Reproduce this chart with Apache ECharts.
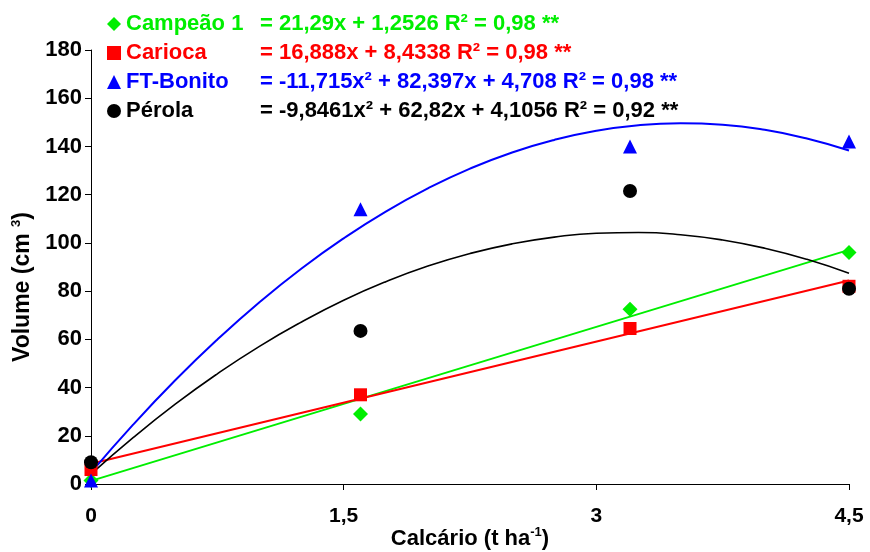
<!DOCTYPE html>
<html>
<head>
<meta charset="utf-8">
<script src="https://cdn.jsdelivr.net/npm/echarts@6/dist/echarts.min.js"></script>
<style>html,body{margin:0;padding:0;background:#fff}#c{width:870px;height:552px}</style>
</head>
<body>
<div id="c"></div>
<script>
// ---- data ----
const seriesNames = ['Campeão 1', 'Carioca', 'FT-Bonito', 'Pérola'];
const equations = [
  '= 21,29x + 1,2526 R² = 0,98 **',
  '= 16,888x + 8,4338 R² = 0,98 **',
  '= -11,715x² + 82,397x + 4,708 R² = 0,98 **',
  '= -9,8461x² + 62,82x + 4,1056 R² = 0,92 **'
];
const doses = [0, 1.6, 3.2, 4.5];
const campeao = [1.5, 29, 72.5, 96];
const carioca = [6, 37, 64.5, 82];
const ftBonito = [1.5, 114, 140, 142];
const perola = [9, 63.5, 121.5, 81];

const lineX = [0, 4.5];
const campeaoFit = [1.3, 97.1];
const cariocaFit = [8.4, 84.4];

const curveX = [0, 0.25, 0.5, 0.75, 1, 1.25, 1.5, 1.75, 2, 2.25, 2.5, 2.75, 3, 3.25, 3.5, 3.75, 4, 4.25, 4.5];
const ftBonitoFit = [4.7, 24.6, 43.0, 59.9, 75.4, 89.4, 101.9, 113.0, 122.6, 130.8, 137.5, 142.7, 146.5, 148.8, 149.6, 149.0, 146.9, 143.3, 138.3];
const perolaFit = [4.1, 19.2, 33.1, 45.7, 57.1, 67.2, 76.2, 83.9, 90.4, 95.6, 99.6, 102.4, 104.0, 104.3, 103.4, 101.2, 97.8, 93.2, 87.4];

const xTicks = [0, 1.5, 3, 4.5];
const xTickLabels = ['0', '1,5', '3', '4,5'];

// ---- styles ----
const colors = ['#00EE00', '#FF0000', '#0000FF', '#000000'];
const symbols = ['diamond', 'rect', 'triangle', 'circle'];
const symSizes = [15, 13, 14, 14];
const pointSets = [campeao, carioca, ftBonito, perola];
const FONT = '"Liberation Sans", Arial, sans-serif';

const pair = (xs, ys) => xs.map((x, i) => [x, ys[i]]);

const rich = {};
colors.forEach((c, i) => {
  rich['n' + i] = { color: c, fontSize: 22, fontWeight: 'bold', fontFamily: FONT, width: 134, lineHeight: 24 };
  rich['e' + i] = { color: c, fontSize: 22, fontWeight: 'bold', fontFamily: FONT, lineHeight: 24 };
});

const series = [];
// trend lines
series.push({ name: 'fit0', type: 'line', data: pair(lineX, campeaoFit), showSymbol: false, lineStyle: { color: colors[0], width: 2 }, z: 2, silent: true });
series.push({ name: 'fit1', type: 'line', data: pair(lineX, cariocaFit), showSymbol: false, lineStyle: { color: colors[1], width: 2 }, z: 2, silent: true });
series.push({ name: 'fit2', type: 'line', data: pair(curveX, ftBonitoFit), smooth: true, showSymbol: false, lineStyle: { color: colors[2], width: 2 }, z: 2, silent: true });
series.push({ name: 'fit3', type: 'line', data: pair(curveX, perolaFit), smooth: true, showSymbol: false, lineStyle: { color: colors[3], width: 1.6 }, z: 2, silent: true });
// points
seriesNames.forEach((n, i) => {
  series.push({
    name: n, type: 'scatter', data: pair(doses, pointSets[i]),
    symbol: symbols[i], symbolSize: symSizes[i],
    itemStyle: { color: colors[i], opacity: 1 }, z: 5
  });
});

const chart = echarts.init(document.getElementById('c'), null, { renderer: 'canvas' });
chart.setOption({
  animation: false,
  backgroundColor: '#fff',
  grid: { left: 91, right: 21, top: 50, bottom: 68, containLabel: false, outerBoundsMode: 'none' },
  legend: {
    data: seriesNames.map((n, i) => ({ name: n, icon: symbols[i] })),
    orient: 'vertical', left: 102, top: 7,
    itemWidth: 14, itemHeight: 14, itemGap: 5,
    selectedMode: false,
    formatter: function (name) {
      const i = seriesNames.indexOf(name);
      return '{n' + i + '|' + name + '}{e' + i + '|' + equations[i] + '}';
    },
    textStyle: { fontSize: 22, fontWeight: 'bold', fontFamily: FONT, lineHeight: 24, rich: rich }
  },
  xAxis: {
    type: 'value', min: 0, max: 4.5, interval: 1.5,
    name: '{t|Calcário (t ha}{s|-1}{t|)}',
    nameLocation: 'middle', nameGap: 42, nameMoveOverlap: false,
    nameTextStyle: {
      rich: {
        t: { fontSize: 22, fontWeight: 'bold', fontFamily: FONT, color: '#000', lineHeight: 24, verticalAlign: 'bottom' },
        s: { fontSize: 13, fontWeight: 'bold', fontFamily: FONT, color: '#000', lineHeight: 24, verticalAlign: 'top' }
      }
    },
    axisLine: { show: true, onZero: false, lineStyle: { color: '#000', width: 1 } },
    axisTick: { show: true, length: 6, lineStyle: { color: '#000' } },
    axisLabel: {
      margin: 22, color: '#000', fontSize: 21, fontWeight: 'bold', fontFamily: FONT,
      formatter: function (v) { const k = xTicks.indexOf(v); return k >= 0 ? xTickLabels[k] : ''; }
    },
    splitLine: { show: false }
  },
  yAxis: {
    type: 'value', min: 0, max: 180, interval: 20,
    name: '{t|Volume (cm }{s|3}{t|)}',
    nameLocation: 'middle', nameGap: 57, nameRotate: 90, nameMoveOverlap: false,
    nameTextStyle: {
      padding: [0, 40, 0, 0],
      rich: {
        t: { fontSize: 23, fontWeight: 'bold', fontFamily: FONT, color: '#000', lineHeight: 24, verticalAlign: 'bottom' },
        s: { fontSize: 13, fontWeight: 'bold', fontFamily: FONT, color: '#000', lineHeight: 24, verticalAlign: 'top' }
      }
    },
    axisLine: { show: true, lineStyle: { color: '#000', width: 1 } },
    axisTick: { show: true, length: 6, lineStyle: { color: '#000' } },
    axisLabel: { margin: 9, color: '#000', fontSize: 22, fontWeight: 'bold', fontFamily: FONT },
    splitLine: { show: false }
  },
  series: series
});
</script>
</body>
</html>
